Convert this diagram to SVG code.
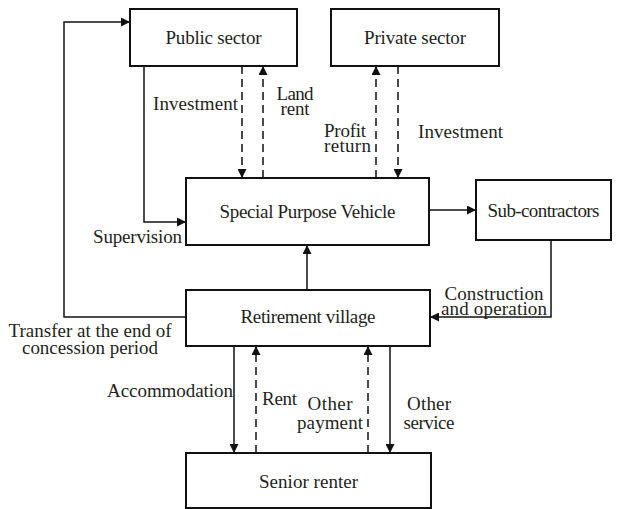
<svg xmlns="http://www.w3.org/2000/svg" width="619" height="509" viewBox="0 0 619 509">
  <style>
    .box { fill: #ffffff; stroke: #111111; stroke-width: 2; }
    .ln { fill: none; stroke: #111111; stroke-width: 1.5; }
    .dash { stroke-dasharray: 8 5; }
    text { font-family: "Liberation Serif", "Times New Roman", serif; font-size: 19px; fill: #231f20; }
    .c { text-anchor: middle; }
    .e { text-anchor: end; }
  </style>
  <defs>
    <marker id="ah" viewBox="0 0 10 10" refX="10" refY="5" markerWidth="11" markerHeight="9" markerUnits="userSpaceOnUse" orient="auto">
      <path d="M0,0 L10,5 L0,10 z" fill="#111111"/>
    </marker>
  </defs>

  <!-- connectors -->
  <g id="connectors">
    <!-- transfer back to the public sector -->
    <polyline class="ln" points="186,317 64,317 64,22 130,22" marker-end="url(#ah)"/>
    <!-- supervision -->
    <polyline class="ln" points="144,66 144,222 186,222" marker-end="url(#ah)"/>
    <!-- public sector flows -->
    <line class="ln dash" x1="242" y1="66" x2="242" y2="178" marker-end="url(#ah)"/>
    <line class="ln dash" x1="263" y1="178" x2="263" y2="66" marker-end="url(#ah)"/>
    <!-- private sector flows -->
    <line class="ln dash" x1="376" y1="178" x2="376" y2="66" marker-end="url(#ah)"/>
    <line class="ln dash" x1="398" y1="66" x2="398" y2="178" marker-end="url(#ah)"/>
    <!-- SPV to sub-contractors -->
    <line class="ln" x1="429" y1="210" x2="476" y2="210" marker-end="url(#ah)"/>
    <!-- construction and operation -->
    <polyline class="ln" points="551,240 551,317 430,317" marker-end="url(#ah)"/>
    <!-- village to SPV -->
    <line class="ln" x1="307" y1="290" x2="307" y2="245" marker-end="url(#ah)"/>
    <!-- village / senior renter flows -->
    <line class="ln" x1="234" y1="346" x2="234" y2="453" marker-end="url(#ah)"/>
    <line class="ln dash" x1="256" y1="453" x2="256" y2="346" marker-end="url(#ah)"/>
    <line class="ln dash" x1="368" y1="453" x2="368" y2="346" marker-end="url(#ah)"/>
    <line class="ln" x1="390" y1="346" x2="390" y2="453" marker-end="url(#ah)"/>
  </g>

  <!-- connector labels -->
  <g id="labels">
    <text x="153" y="110" textLength="85">Investment</text>
    <text class="c" x="295" y="100" textLength="37">Land</text>
    <text class="c" x="295" y="115" textLength="29">rent</text>
    <text x="324" y="137" textLength="42">Profit</text>
    <text x="324" y="152" textLength="47">return</text>
    <text x="418" y="138" textLength="85">Investment</text>
    <text x="93" y="243" textLength="89">Supervision</text>
    <text class="c" x="90" y="337" textLength="163">Transfer at the end of</text>
    <text class="c" x="90" y="354" textLength="136">concession period</text>
    <text class="c" x="494" y="300" textLength="99">Construction</text>
    <text class="c" x="494" y="315" textLength="106">and operation</text>
    <text x="107" y="397" textLength="126">Accommodation</text>
    <text x="262" y="405" textLength="35">Rent</text>
    <text class="c" x="330" y="410" textLength="45">Other</text>
    <text class="c" x="330" y="429" textLength="66">payment</text>
    <text class="c" x="429" y="410" textLength="44">Other</text>
    <text class="c" x="429" y="429" textLength="51">service</text>
  </g>

  <g id="public-sector">
    <rect class="box" x="130" y="9" width="167" height="57"/>
    <text class="c" x="213.5" y="44" textLength="96">Public sector</text>
  </g>
  <g id="private-sector">
    <rect class="box" x="331" y="9" width="168" height="57"/>
    <text class="c" x="415" y="44" textLength="102">Private sector</text>
  </g>
  <g id="spv">
    <rect class="box" x="186" y="178" width="243" height="67"/>
    <text class="c" x="307.5" y="218" textLength="176">Special Purpose Vehicle</text>
  </g>
  <g id="sub-contractors">
    <rect class="box" x="476" y="180" width="135" height="60"/>
    <text class="c" x="543.5" y="217" textLength="112">Sub-contractors</text>
  </g>
  <g id="retirement-village">
    <rect class="box" x="186" y="290" width="244" height="56"/>
    <text class="c" x="308" y="323" textLength="135">Retirement village</text>
  </g>
  <g id="senior-renter">
    <rect class="box" x="186" y="453" width="245" height="55"/>
    <text class="c" x="308.5" y="488" textLength="99">Senior renter</text>
  </g>
</svg>
